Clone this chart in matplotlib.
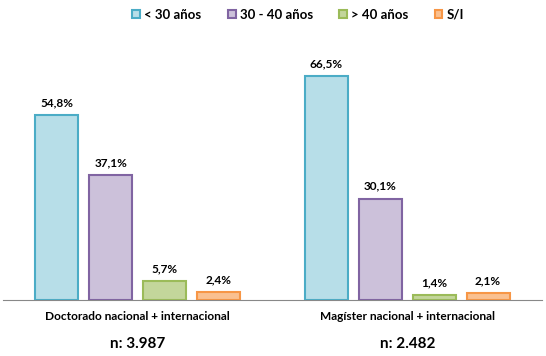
import matplotlib
matplotlib.use("Agg")
import matplotlib.pyplot as plt
import numpy as np

plt.rcParams['font.family'] = ['Lato', 'DejaVu Sans']

categories = ["Doctorado nacional + internacional", "Magíster nacional + internacional"]
n_labels = ["n: 3.987", "n: 2.482"]
series = ["< 30 años", "30 - 40 años", "> 40 años", "S/I"]
values = [
    [54.8, 66.5],
    [37.1, 30.1],
    [5.7, 1.4],
    [2.4, 2.1],
]
fills = ["#B7DEE8", "#CCC1DA", "#C3D69B", "#FAC090"]
edges = ["#4BACC6", "#8064A2", "#9BBB59", "#F79646"]

fig = plt.figure(figsize=(5.46, 3.56), dpi=100)
ax = fig.add_axes([3/546, 56/356, 539/546, 236/356])

x = np.arange(len(categories))
offsets = [-0.3, -0.1, 0.1, 0.3]
for i, s in enumerate(series):
    bars = ax.bar(x + offsets[i], values[i], width=0.16, color=fills[i],
                  edgecolor=edges[i], linewidth=1.5, label=s)
    for b, v in zip(bars, values[i]):
        ax.text(b.get_x() + b.get_width()/2, v + 2.0, ("%.1f%%" % v).replace(".", ","),
                ha="center", va="bottom", fontsize=8.5, fontweight="bold")

ax.set_xlim(-0.5, 1.5)
ax.set_ylim(0, 70)
ax.set_yticks([])
ax.set_xticks([])
for sp in ["top", "right", "left"]:
    ax.spines[sp].set_visible(False)
ax.spines["bottom"].set_color("#888888")

for xi, c, n in zip(x, categories, n_labels):
    ax.text(xi, -4.9, c, ha="center", va="center", fontsize=8.6, fontweight="bold",
            clip_on=False)
    ax.text(xi, -13.0, n, ha="center", va="center", fontsize=11, fontweight="bold",
            clip_on=False)

leg = fig.legend(loc="center", bbox_to_anchor=(0.546, 0.958), ncol=4, frameon=False,
                 prop={"size": 9.5, "weight": "bold"}, handlelength=0.6, handleheight=0.6,
                 handletextpad=0.3, columnspacing=2.0)

fig.savefig("out.png", dpi=100)
